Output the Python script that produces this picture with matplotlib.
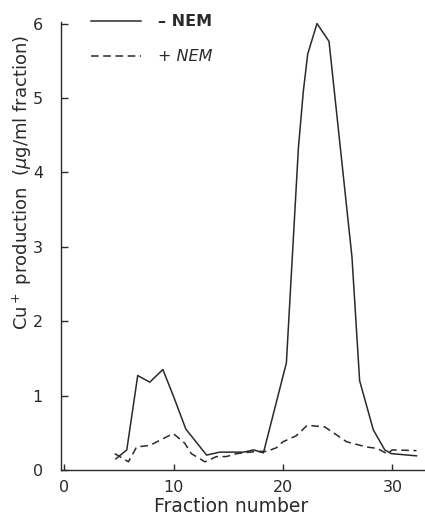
import numpy as np
import matplotlib
matplotlib.use('Agg')
import matplotlib.pyplot as plt

# Cu+ production across the gradient fractions, with and without NEM
frac_minus=[4.7,5.7,6.7,7.8,9.0,10.0,11.1,13.0,14.2,16.4,17.3,18.2,20.3,21.4,21.85,22.25,23.1,24.2,26.3,27.0,28.25,29.3,29.9,32.2]
cu_minus=[0.15,0.27,1.27,1.18,1.35,0.98,0.55,0.20,0.24,0.24,0.27,0.23,1.44,4.33,5.09,5.59,6.00,5.76,2.86,1.20,0.54,0.27,0.22,0.19]

frac_plus=[4.6,5.85,6.6,7.8,9.95,11.0,11.6,12.85,13.9,14.8,15.75,17.6,18.5,19.4,20.0,21.2,22.2,23.8,25.8,27.6,28.6,29.5,30.0,32.2]
cu_plus=[0.22,0.11,0.31,0.33,0.49,0.36,0.22,0.11,0.18,0.18,0.22,0.25,0.25,0.30,0.38,0.46,0.60,0.58,0.38,0.31,0.29,0.22,0.27,0.26]

xticks=[0,10,20,30]
yticks=[0,1,2,3,4,5,6]

ink='#2a2a2a'
matplotlib.rcParams.update({'font.size': 11, 'font.family':'DejaVu Sans'})

fig=plt.figure(figsize=(4.25,5.15),dpi=100)
ax=fig.add_axes([0.1435,0.0874,0.8565,0.8698])

ax.plot(frac_minus,cu_minus,color=ink,lw=1.1,label='– NEM')
ax.plot(frac_plus,cu_plus,color=ink,lw=1.1,linestyle=(0,(5,3)),label='+ NEM')

ax.set_xlim(-0.32,32.98)
ax.set_ylim(0,6.02)
ax.set_xticks(xticks)
ax.set_yticks(yticks)
ax.spines['top'].set_visible(False)
ax.spines['right'].set_visible(False)
for s in ['left','bottom']:
    ax.spines[s].set_color(ink)
    ax.spines[s].set_linewidth(1.0)
ax.tick_params(axis='y',direction='in',length=5,width=1,colors=ink,pad=13,labelsize=11.5)
ax.tick_params(axis='x',direction='in',length=4,width=1,colors=ink,pad=7,labelsize=11.5)

fig.text(0.052,0.646,r'Cu$^+$ production  ($\mu$g/ml fraction)',rotation=90,
         ha='center',va='center',color=ink,fontsize=13)
fig.text(0.544,0.016,'Fraction number',ha='center',va='center',color=ink,fontsize=13.5)

leg=ax.legend(loc='upper left',bbox_to_anchor=(0.215,0.972),bbox_transform=fig.transFigure,
              frameon=False,handlelength=3.1,handletextpad=1.1,labelspacing=1.25,
              borderpad=0,borderaxespad=0,fontsize=11.5)
for t in leg.get_texts():
    t.set_color(ink)
leg.get_texts()[0].set_fontweight('bold')
leg.get_texts()[1].set_fontstyle('italic')

plt.savefig('out.png',dpi=100)
